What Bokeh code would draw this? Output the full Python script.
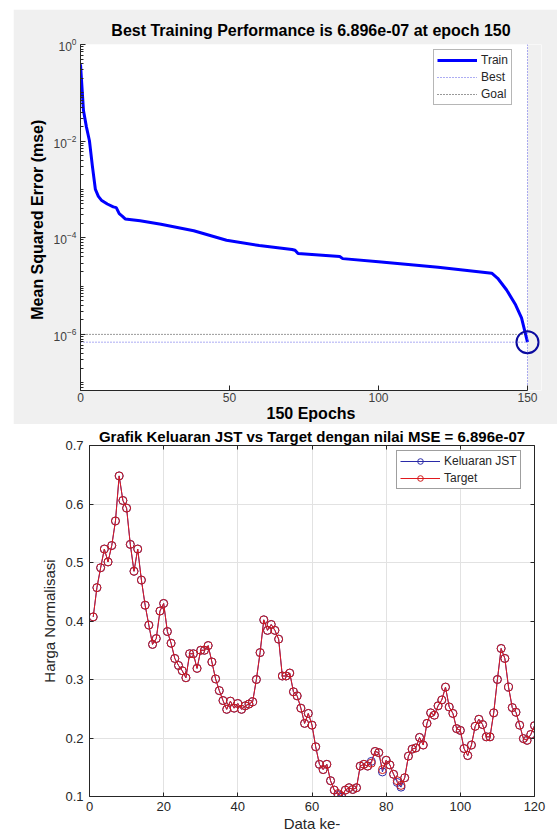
from bokeh.plotting import figure
from bokeh.models import (Range1d, FixedTicker, LogTickFormatter, LinearAxis, BoxAnnotation,
                          Legend, LegendItem, Spacer)
from bokeh.layouts import column, row
from bokeh.embed import file_html
from bokeh.resources import INLINE

FONT = "Liberation Sans"
GRAY_BG = "#f0f0f0"
AX = "#262626"

# ---------------- top chart data (training performance) ----------------
epoch_pts = [0, 1, 2, 3, 4, 5, 6, 7, 9, 11, 12, 13, 14, 15, 20, 27, 38, 49, 60, 71,
             72, 73, 87, 88, 100, 120, 138, 140, 143, 146, 148, 150]
train_mse = [0.39, 0.043, 0.0195, 0.0102, 0.003, 0.001, 7.2e-4, 6.0e-4, 5.0e-4, 4.35e-4,
             4.2e-4, 3.16e-4, 2.8e-4, 2.45e-4, 2.24e-4, 1.9e-4, 1.4e-4, 8.9e-5, 6.9e-5, 5.7e-5,
             5.5e-5, 4.7e-5, 4.1e-5, 3.7e-5, 3.2e-5, 2.45e-5, 1.85e-5, 1.45e-5, 8.3e-6, 4.1e-6,
             2.2e-6, 6.896e-7]
best_epoch = 150
best_perf = 6.896e-7
goal_perf = 1e-6
perf_ylim = [6.896e-8, 1.0]
epoch_ticks = [0, 50, 100, 150]
log_major = [1e-6, 1e-4, 1e-2, 1.0]

# ---------------- bottom chart data ----------------
data_idx = list(range(1, 121))
target = [0.407, 0.457, 0.491, 0.523, 0.501, 0.529, 0.571, 0.648, 0.606, 0.593,
          0.531, 0.485, 0.523, 0.470, 0.427, 0.393, 0.360, 0.370, 0.417, 0.430,
          0.382, 0.362, 0.336, 0.324, 0.315, 0.303, 0.344, 0.344, 0.319, 0.350,
          0.350, 0.358, 0.330, 0.301, 0.281, 0.264, 0.249, 0.263, 0.251, 0.259,
          0.249, 0.255, 0.258, 0.262, 0.300, 0.346, 0.402, 0.384, 0.394, 0.384,
          0.369, 0.306, 0.306, 0.311, 0.279, 0.272, 0.251, 0.225, 0.242, 0.222,
          0.185, 0.155, 0.146, 0.155, 0.127, 0.111, 0.105, 0.101, 0.111, 0.115,
          0.112, 0.115, 0.152, 0.155, 0.152, 0.157, 0.177, 0.175, 0.146, 0.162,
          0.154, 0.138, 0.127, 0.119, 0.132, 0.169, 0.181, 0.183, 0.201, 0.188,
          0.225, 0.243, 0.239, 0.255, 0.265, 0.287, 0.253, 0.242, 0.216, 0.213,
          0.182, 0.170, 0.188, 0.220, 0.232, 0.223, 0.202, 0.202, 0.243, 0.300,
          0.353, 0.336, 0.287, 0.252, 0.244, 0.222, 0.199, 0.196, 0.206, 0.221]
keluaran = [0.407, 0.457, 0.491, 0.523, 0.501, 0.529, 0.571, 0.648, 0.606, 0.593,
            0.531, 0.485, 0.523, 0.470, 0.427, 0.393, 0.360, 0.370, 0.417, 0.430,
            0.382, 0.362, 0.336, 0.324, 0.315, 0.303, 0.344, 0.344, 0.319, 0.350,
            0.350, 0.358, 0.330, 0.301, 0.281, 0.264, 0.249, 0.263, 0.251, 0.259,
            0.249, 0.255, 0.258, 0.262, 0.300, 0.346, 0.402, 0.384, 0.394, 0.384,
            0.369, 0.306, 0.306, 0.311, 0.279, 0.272, 0.251, 0.225, 0.242, 0.222,
            0.185, 0.155, 0.146, 0.155, 0.127, 0.111, 0.103, 0.099, 0.111, 0.115,
            0.112, 0.115, 0.152, 0.155, 0.152, 0.160, 0.177, 0.175, 0.142, 0.162,
            0.154, 0.138, 0.124, 0.116, 0.132, 0.169, 0.181, 0.183, 0.201, 0.188,
            0.225, 0.243, 0.239, 0.255, 0.265, 0.287, 0.253, 0.242, 0.216, 0.213,
            0.182, 0.170, 0.188, 0.220, 0.232, 0.223, 0.202, 0.202, 0.243, 0.300,
            0.353, 0.336, 0.287, 0.252, 0.244, 0.222, 0.199, 0.196, 0.206, 0.221]
x_ticks2 = [0, 20, 40, 60, 80, 100, 120]
y_ticks2 = [0.1, 0.2, 0.3, 0.4, 0.5, 0.6, 0.7]

# ================= TOP FIGURE =================
p1 = figure(width=544, height=415, x_range=Range1d(0, 154.7),
            y_range=Range1d(perf_ylim[0], perf_ylim[1]), y_axis_type="log",
            output_backend="svg", toolbar_location=None,
            min_border_left=67, min_border_right=16, min_border_top=35, min_border_bottom=34)
p1.border_fill_color = GRAY_BG
p1.background_fill_color = "white"
p1.outline_line_color = None
p1.grid.visible = False

p1.add_layout(BoxAnnotation(left=best_epoch, fill_color=GRAY_BG, fill_alpha=1.0,
                            line_color=None, level="underlay"))

p1.title.text = "Best Training Performance is 6.896e-07 at epoch 150"
p1.title.align = "center"
p1.title.text_font = FONT
p1.title.text_font_size = "16px"
p1.title.text_font_style = "bold"
p1.title.text_color = "black"
p1.title.standoff = 12

xa = p1.xaxis[0]
xa.ticker = FixedTicker(ticks=epoch_ticks)
xa.bounds = (0, 150)
xa.axis_label = "150 Epochs"
xa.axis_label_text_font = FONT
xa.axis_label_text_font_size = "16px"
xa.axis_label_text_font_style = "bold"
xa.axis_label_text_color = "black"
xa.axis_label_standoff = 0
xa.major_label_text_font = FONT
xa.major_label_text_font_size = "12px"
xa.major_label_text_color = "#404040"
xa.major_label_standoff = 2
xa.axis_line_color = AX
xa.major_tick_line_color = AX
xa.major_tick_in = 5
xa.major_tick_out = 0
xa.minor_tick_line_color = None

minor_log = [k * 10.0 ** e for e in range(-8, 1) for k in range(1, 10)]
ya = p1.yaxis[0]
ya.ticker = FixedTicker(ticks=log_major, minor_ticks=minor_log)
ya.formatter = LogTickFormatter(min_exponent=0)
ya.axis_label = "Mean Squared Error  (mse)"
ya.axis_label_text_font = FONT
ya.axis_label_text_font_size = "16px"
ya.axis_label_text_font_style = "bold"
ya.axis_label_text_color = "black"
ya.axis_label_standoff = 5
ya.major_label_text_font = FONT
ya.major_label_text_font_size = "12px"
ya.major_label_text_color = "#404040"
ya.major_label_standoff = 4
ya.axis_line_color = AX
ya.major_tick_line_color = AX
ya.major_tick_in = 5
ya.major_tick_out = 0
ya.minor_tick_line_color = AX
ya.minor_tick_in = 3
ya.minor_tick_out = 0

r_train = p1.line(epoch_pts, train_mse, line_color="#0000ff", line_width=3)
r_goal = p1.line([0, best_epoch], [goal_perf, goal_perf], line_color="#333333",
                 line_width=1, line_dash="1 2")
r_best = p1.line([0, best_epoch], [best_perf, best_perf], line_color="#5a5ae6",
                 line_width=1, line_dash="1 2")
p1.line([best_epoch, best_epoch], perf_ylim, line_color="#5a5ae6", line_width=1, line_dash="1 2")
p1.scatter([best_epoch], [best_perf], marker="circle", size=22, fill_color=None,
           line_color="#0a0aa0", line_width=2)

leg1 = Legend(items=[LegendItem(label="Train", renderers=[r_train]),
                     LegendItem(label="Best", renderers=[r_best]),
                     LegendItem(label="Goal", renderers=[r_goal])],
              location=(353, 285))
leg1.label_text_font = FONT
leg1.label_text_font_size = "12px"
leg1.label_text_color = "#262626"
leg1.glyph_width = 40
leg1.glyph_height = 14
leg1.label_height = 14
leg1.spacing = 3
leg1.padding = 3
leg1.margin = 0
leg1.label_standoff = 4
leg1.border_line_color = "#6e6e6e"
leg1.border_line_width = 1.5
leg1.background_fill_color = "white"
leg1.background_fill_alpha = 1.0
p1.add_layout(leg1)

# ================= BOTTOM FIGURE =================
p2 = figure(width=557, height=412, x_range=Range1d(0, 120), y_range=Range1d(0.1, 0.7),
            output_backend="svg", toolbar_location=None,
            min_border_left=89, min_border_right=23, min_border_top=21, min_border_bottom=40)
p2.border_fill_color = "white"
p2.background_fill_color = "white"
p2.outline_line_color = None

p2.title.text = "Grafik Keluaran JST vs Target dengan nilai MSE = 6.896e-07"
p2.title.align = "center"
p2.title.text_font = FONT
p2.title.text_font_size = "15px"
p2.title.text_font_style = "bold"
p2.title.text_color = "black"
p2.title.standoff = 1

p2.xgrid.ticker = FixedTicker(ticks=x_ticks2)
p2.ygrid.ticker = FixedTicker(ticks=y_ticks2)
p2.grid.grid_line_color = "#e2e2e2"
p2.grid.grid_line_width = 1

bx = p2.xaxis[0]
bx.ticker = FixedTicker(ticks=x_ticks2)
bx.axis_label = "Data ke-"
by = p2.yaxis[0]
by.ticker = FixedTicker(ticks=y_ticks2)
by.axis_label = "Harga Normalisasi"
for ax in (bx, by):
    ax.axis_label_text_font = FONT
    ax.axis_label_text_font_size = "15px"
    ax.axis_label_text_font_style = "normal"
    ax.axis_label_text_color = AX
    ax.major_label_text_font = FONT
    ax.major_label_text_font_size = "13px"
    ax.major_label_text_color = AX
    ax.axis_line_color = AX
    ax.major_tick_line_color = AX
    ax.major_tick_in = 4
    ax.major_tick_out = 0
    ax.minor_tick_line_color = None
bx.major_label_standoff = 5
bx.axis_label_standoff = 1
by.major_label_standoff = 6
by.axis_label_standoff = 4

for loc, tk in (("above", x_ticks2), ("right", y_ticks2)):
    ax = LinearAxis(ticker=FixedTicker(ticks=tk))
    ax.major_label_text_font_size = "1px"
    ax.major_label_text_color = None
    ax.major_label_standoff = 0
    ax.axis_line_color = AX
    ax.major_tick_line_color = AX
    ax.major_tick_in = 4
    ax.major_tick_out = 0
    ax.minor_tick_line_color = None
    p2.add_layout(ax, loc)

BLUE = "#2a2aa8"
RED = "#e0191e"
l_out = p2.line(data_idx, keluaran, line_color=BLUE, line_width=1)
s_out = p2.scatter(data_idx, keluaran, marker="circle", size=8, fill_color=None,
                   line_color=BLUE, line_width=1)
l_tgt = p2.line(data_idx, target, line_color=RED, line_width=1)
s_tgt = p2.scatter(data_idx, target, marker="circle", size=8, fill_color=None,
                   line_color="#cc1a1a", line_width=1)

leg2 = Legend(items=[LegendItem(label="Keluaran JST", renderers=[l_out, s_out]),
                     LegendItem(label="Target", renderers=[l_tgt, s_tgt])],
              location=(307, 307))
leg2.label_text_font = FONT
leg2.label_text_font_size = "12px"
leg2.label_text_color = AX
leg2.glyph_width = 40
leg2.glyph_height = 14
leg2.label_height = 14
leg2.spacing = 3
leg2.padding = 3
leg2.margin = 0
leg2.label_standoff = 4
leg2.border_line_color = "#404040"
leg2.border_line_width = 1
leg2.background_fill_color = "white"
leg2.background_fill_alpha = 1.0
p2.add_layout(leg2)

layout = column(Spacer(width=10, height=9),
                row(Spacer(width=13, height=415), p1),
                p2)
open("out.html", "w").write(file_html(layout, INLINE))
